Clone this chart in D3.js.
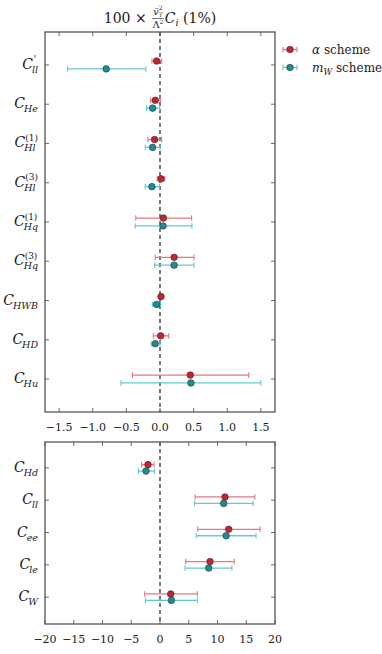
<!DOCTYPE html>
<html>
<head>
<meta charset="UTF-8">
<script src="https://cdnjs.cloudflare.com/ajax/libs/d3/7.8.5/d3.min.js"></script>
<style>
  body { margin: 0; background: #fff; }
  svg { display: block; }
  svg text { fill: #1a1a1a; white-space: pre; }
</style>
</head>
<body>
<svg id="chart" width="382" height="654"></svg>
<script>
// coefficients, upper panel
const topSubs = ["ll", "He", "Hl", "Hl", "Hq", "Hq", "HWB", "HD", "Hu"];
const topSups = ["'", "", "(1)", "(3)", "(1)", "(3)", "", "", ""];
const alphaTop   = [-0.05, -0.07, -0.08, 0.015, 0.05, 0.21, 0.015, 0.01, 0.45];
const alphaTopLo = [-0.12, -0.14, -0.18, -0.04, -0.36, -0.07, -0.01, -0.10, -0.41];
const alphaTopHi = [0.025, 0.01, 0.025, 0.07, 0.47, 0.505, 0.04, 0.13, 1.32];
const mwTop   = [-0.80, -0.11, -0.11, -0.12, 0.045, 0.21, -0.05, -0.07, 0.46];
const mwTopLo = [-1.376, -0.20, -0.22, -0.22, -0.37, -0.08, -0.11, -0.13, -0.58];
const mwTopHi = [-0.21, -0.005, 0.0, -0.01, 0.475, 0.505, 0.01, 0.0, 1.50];
const topTicks = [-1.5, -1.0, -0.5, 0.0, 0.5, 1.0, 1.5];

// coefficients, lower panel
const botSubs = ["Hd", "ll", "ee", "le", "W"];
const botSups = ["", "", "", "", ""];
const alphaBot   = [-2.09, 11.3, 11.95, 8.7, 1.86];
const alphaBotLo = [-3.2, 6.1, 6.56, 4.47, -2.66];
const alphaBotHi = [-1.04, 16.5, 17.4, 12.9, 6.5];
const mwBot   = [-2.43, 11.08, 11.5, 8.47, 1.98];
const mwBotLo = [-3.76, 6.0, 6.3, 4.35, -2.54];
const mwBotHi = [-0.97, 16.2, 16.7, 12.5, 6.5];
const botTicks = [-20, -15, -10, -5, 0, 5, 10, 15, 20];

const red = {dot: "#c42430", bar: "#e57882"};
const teal = {dot: "#188e99", bar: "#62c9d3"};
const FONT = "DejaVu Serif";

const svg = d3.select("#chart");
const L = 45, R = 275;

function fmt(v, dec) {
  return v.toFixed(dec).replace("-", "\u2212");
}

function txt(g, x, y, size, it, s) {
  return g.append("text").attr("x", x).attr("y", y)
    .style("font-family", FONT)
    .style("font-size", size + "px")
    .style("font-style", it ? "italic" : "normal")
    .text(s);
}

// place a run of text pieces one after another, return width
function run(g, pieces) {
  let x = 0;
  pieces.forEach(p => {
    const t = txt(g, x, p.dy || 0, p.size, p.it, p.t);
    const w = t.node().getComputedTextLength();
    if (!p.stack) x += w;
  });
  return x;
}

function coefLabel(g, sub, sup) {
  const c = txt(g, 0, 0, 14, true, "C");
  const wc = c.node().getComputedTextLength();
  let ws = 0, wp = 0;
  const prime = sup === "'";
  if (sub) ws = txt(g, wc - 1, prime ? 4.5 : 4, 9.5, true, sub).node().getComputedTextLength();
  if (prime) wp = txt(g, wc + 0.5, -6.5, 10, true, sup).node().getComputedTextLength();
  else if (sup) wp = txt(g, wc, -6.5, 9, false, sup).node().getComputedTextLength();
  return wc + Math.max(ws - 1, wp);
}

function panel(y0, y1, xDomain, ticks, dec, subs, sups, yPad0, yPad1, series) {
  const x = d3.scaleLinear().domain(xDomain).range([L, R]);
  const y = d3.scaleLinear().domain([-yPad0, subs.length - 1 + yPad1]).range([y0, y1]);
  const g = svg.append("g");

  // dashed zero line
  g.append("line")
    .attr("x1", x(0)).attr("x2", x(0)).attr("y1", y0).attr("y2", y1)
    .attr("stroke", "#222").attr("stroke-width", 1.2).attr("stroke-dasharray", "4,3");

  // inward ticks
  const tl = 4;
  ticks.forEach(t => {
    g.append("line").attr("x1", x(t)).attr("x2", x(t)).attr("y1", y1).attr("y2", y1 - tl)
      .attr("stroke", "#444").attr("stroke-width", 0.8);
    g.append("line").attr("x1", x(t)).attr("x2", x(t)).attr("y1", y0).attr("y2", y0 + tl)
      .attr("stroke", "#444").attr("stroke-width", 0.8);
    txt(g, x(t), y1 + 19, 11, false, fmt(t, dec)).attr("text-anchor", "middle");
  });
  subs.forEach((s, i) => {
    g.append("line").attr("x1", L).attr("x2", L + tl).attr("y1", y(i)).attr("y2", y(i))
      .attr("stroke", "#444").attr("stroke-width", 0.8);
    g.append("line").attr("x1", R).attr("x2", R - tl).attr("y1", y(i)).attr("y2", y(i))
      .attr("stroke", "#444").attr("stroke-width", 0.8);
    const lg = g.append("g");
    const w = coefLabel(lg, s, sups[i]);
    lg.attr("transform", `translate(${38 - w},${y(i) + 4})`);
  });

  // error bars and points
  series.forEach(sr => {
    sr.v.forEach((v, i) => {
      const yy = y(i + sr.off);
      const eg = g.append("g");
      eg.append("line").attr("x1", x(sr.lo[i])).attr("x2", x(sr.hi[i])).attr("y1", yy).attr("y2", yy)
        .attr("stroke", sr.col.bar).attr("stroke-width", 1.3);
      [sr.lo[i], sr.hi[i]].forEach(e => {
        eg.append("line").attr("x1", x(e)).attr("x2", x(e)).attr("y1", yy - 2.8).attr("y2", yy + 2.8)
          .attr("stroke", sr.col.bar).attr("stroke-width", 1.1);
      });
      eg.append("circle").attr("cx", x(v)).attr("cy", yy).attr("r", 3.3)
        .attr("fill", sr.col.dot).attr("stroke", "#3a2a2a").attr("stroke-width", 0.6);
    });
  });

  g.append("rect").attr("x", L).attr("y", y0).attr("width", R - L).attr("height", y1 - y0)
    .attr("fill", "none").attr("stroke", "#555").attr("stroke-width", 1.3);
}

panel(32, 412, [-1.71, 1.71], topTicks, 1, topSubs, topSups, 0.84, 0.84, [
  {v: alphaTop, lo: alphaTopLo, hi: alphaTopHi, col: red, off: -0.1},
  {v: mwTop, lo: mwTopLo, hi: mwTopHi, col: teal, off: 0.1}
]);
panel(442, 624, [-20, 20], botTicks, 0, botSubs, botSups, 0.8, 0.83, [
  {v: alphaBot, lo: alphaBotLo, hi: alphaBotHi, col: red, off: -0.1},
  {v: mwBot, lo: mwBotLo, hi: mwBotHi, col: teal, off: 0.1}
]);

// title: 100 × (v̄_T² / Λ²) C_i (1%)
const tg = svg.append("g");
const tx = run(tg, [{t: "100 × ", size: 14}]);
const fx = tx + 1;
const ng = tg.append("g");
const nw = run(ng, [{t: "v̄", size: 9.5, it: true}, {t: "2", size: 6, dy: -4.5, stack: true}, {t: "T", size: 6, it: true, dy: 2.5}]);
const dg = tg.append("g");
const dw = run(dg, [{t: "Λ", size: 9.5}, {t: "2", size: 6, dy: -4}]);
const fw = Math.max(nw, dw) + 1;
ng.attr("transform", `translate(${fx + (fw - nw) / 2},-8.5)`);
dg.attr("transform", `translate(${fx + (fw - dw) / 2},4.5)`);
tg.append("line").attr("x1", fx).attr("x2", fx + fw).attr("y1", -4.5).attr("y2", -4.5)
  .attr("stroke", "#111").attr("stroke-width", 0.6);
const rg = tg.append("g").attr("transform", `translate(${fx + fw + 1},0)`);
const rw = run(rg, [{t: "C", size: 14, it: true}, {t: "i", size: 9.5, it: true, dy: 3}, {t: " (1%)", size: 14}]);
const totalW = fx + fw + 1 + rw;
tg.attr("transform", `translate(${160 - totalW / 2},23)`);

// legend
const legend = [{col: red, y: 49.5}, {col: teal, y: 67.5}];
legend.forEach((d, i) => {
  const lg = svg.append("g");
  lg.append("line").attr("x1", 283).attr("x2", 297).attr("y1", d.y).attr("y2", d.y)
    .attr("stroke", d.col.bar).attr("stroke-width", 1.3);
  [283, 297].forEach(xx => lg.append("line").attr("x1", xx).attr("x2", xx)
    .attr("y1", d.y - 2.8).attr("y2", d.y + 2.8).attr("stroke", d.col.bar).attr("stroke-width", 1.1));
  lg.append("circle").attr("cx", 290).attr("cy", d.y).attr("r", 3.3)
    .attr("fill", d.col.dot).attr("stroke", "#3a2a2a").attr("stroke-width", 0.6);
  const tgl = lg.append("g").attr("transform", `translate(312,${d.y + 4})`);
  if (i === 0) run(tgl, [{t: "α", size: 12, it: true}, {t: " scheme", size: 12}]);
  else run(tgl, [{t: "m", size: 12, it: true}, {t: "W", size: 8.5, it: true, dy: 3}, {t: " scheme", size: 12}]);
});
</script>
</body>
</html>
